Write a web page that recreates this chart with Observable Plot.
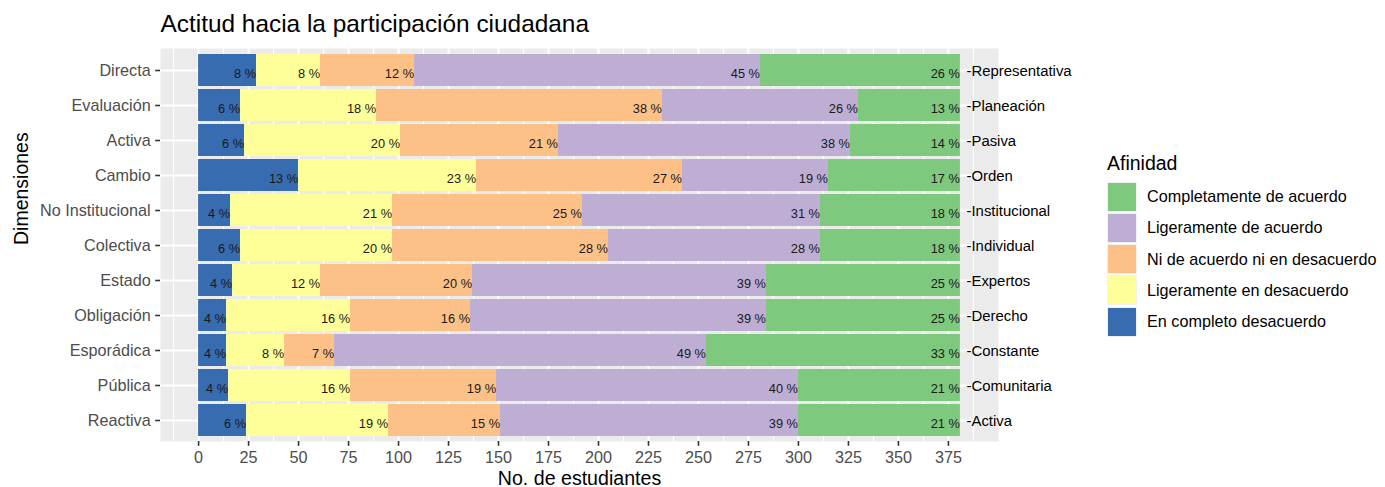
<!DOCTYPE html>
<html><head><meta charset="utf-8">
<script src="https://cdn.jsdelivr.net/npm/d3@7"></script>
<script src="https://cdn.jsdelivr.net/npm/@observablehq/plot@0.6"></script>
<style>
html,body{margin:0;padding:0;background:#fff;}
#wrap{position:relative;width:1385px;height:487px;font-family:"Liberation Sans",Arial,Helvetica,sans-serif;}
#wrap svg{position:absolute;left:0;top:0;}
.lg{position:absolute;white-space:nowrap;}
</style></head><body><div id="wrap"></div>
<script>
const categories = ["Directa","Evaluación","Activa","Cambio","No Institucional","Colectiva","Estado","Obligación","Esporádica","Pública","Reactiva"];
const opposites = ["Representativa","Planeación","Pasiva","Orden","Institucional","Individual","Expertos","Derecho","Constante","Comunitaria","Activa"];
const levels = ["En completo desacuerdo","Ligeramente en desacuerdo","Ni de acuerdo ni en desacuerdo","Ligeramente de acuerdo","Completamente de acuerdo"];
const levelColors = ["#386CB0","#FFFF99","#FDC086","#BEAED4","#7FC97F"];
// number of students per category and level
const enCompletoDesacuerdo = [29, 21, 23, 50, 16, 21, 17, 14, 14, 15, 24];
const ligeramenteEnDesacuerdo = [32, 68, 78, 89, 81, 76, 44, 62, 29, 61, 71];
const niDeAcuerdoNiEnDesacuerdo = [47, 143, 79, 103, 95, 108, 76, 60, 25, 73, 56];
const ligeramenteDeAcuerdo = [173, 98, 146, 73, 119, 106, 147, 148, 186, 151, 149];
const completamenteDeAcuerdo = [100, 51, 55, 66, 70, 70, 97, 97, 127, 81, 81];
const xTicks = [0,25,50,75,100,125,150,175,200,225,250,275,300,325,350,375];
const xMinorTicks = [-12.5,12.5,37.5,62.5,87.5,112.5,137.5,162.5,187.5,212.5,237.5,262.5,287.5,312.5,337.5,362.5,387.5];
const titleText = "Actitud hacia la participación ciudadana";
const xTitle = "No. de estudiantes";
const yTitle = "Dimensiones";
const legendTitle = "Afinidad";

const counts = [enCompletoDesacuerdo, ligeramenteEnDesacuerdo, niDeAcuerdoNiEnDesacuerdo, ligeramenteDeAcuerdo, completamenteDeAcuerdo];
const rows = [];
categories.forEach((cat, i) => {
  const tot = d3.sum(counts, s => s[i]);
  levels.forEach((lev, j) => rows.push({cat, level: lev, n: counts[j][i], pct: Math.round(100 * counts[j][i] / tot)}));
});
const maxTotal = d3.max(categories, (c, i) => d3.sum(counts, s => s[i]));
const pad = maxTotal * 0.05;

const font = '"Liberation Sans", Arial, Helvetica, sans-serif';
const chart = Plot.plot({
  width: 1385, height: 487,
  marginLeft: 160, marginRight: 387, marginTop: 48, marginBottom: 46,
  style: {fontFamily: font, background: "transparent", overflow: "visible"},
  x: {domain: [-pad, maxTotal + pad]},
  y: {domain: categories, paddingInner: 0.1, paddingOuter: 0.15, align: 0.5},
  color: {domain: levels, range: levelColors},
  marks: [
    Plot.frame({fill: "#EBEBEB", stroke: "none"}),
    Plot.ruleX(xMinorTicks, {stroke: "white", strokeWidth: 1.1}),
    Plot.gridX(xTicks, {stroke: "white", strokeOpacity: 1, strokeWidth: 2.1}),
    Plot.gridY(categories, {stroke: "white", strokeOpacity: 1, strokeWidth: 2.1}),
    Plot.barX(rows, {x: "n", y: "cat", fill: "level"}),
    Plot.text(rows, Plot.stackX2({x: "n", y: "cat", text: d => d.pct + " %", textAnchor: "end", dx: -0.5, dy: 3.5, fontSize: 12.8, fill: "#1a1a1a"})),
    Plot.text(categories, {y: d => d, text: (d, i) => "-" + opposites[i], frameAnchor: "right", dx: -32, dy: 1, textAnchor: "start", fontSize: 14.9, fill: "black"}),
    Plot.axisX({ticks: xTicks, tickSize: 4.8, tickPadding: 5, fontSize: 16.2, stroke: "#333333", strokeWidth: 1.6, fill: "#4d4d4d", label: null}),
    Plot.axisY({tickSize: 4.8, tickPadding: 5, fontSize: 16.2, stroke: "#333333", strokeWidth: 1.6, fill: "#4d4d4d", label: null}),
    Plot.text([titleText], {frameAnchor: "top-left", textAnchor: "start", lineAnchor: "bottom", dy: -16.5, fontSize: 24.4, fill: "black"}),
    Plot.text([xTitle], {frameAnchor: "bottom", lineAnchor: "bottom", dy: 43, fontSize: 19.6, fill: "black"}),
    Plot.text([yTitle], {frameAnchor: "left", lineAnchor: "middle", rotate: -90, dx: -139, fontSize: 19.5, fill: "black"})
  ]
});
const wrap = document.getElementById("wrap");
wrap.appendChild(chart);

// legend (right side)
const lt = document.createElement("div");
lt.className = "lg";
lt.textContent = legendTitle;
Object.assign(lt.style, {left: "1107px", top: "152px", fontSize: "19.5px", lineHeight: "22px", color: "black"});
wrap.appendChild(lt);
const legendOrder = levels.map((l, j) => j).reverse();
legendOrder.forEach((j, k) => {
  const top = 182.5 + k * 31.3;
  const key = document.createElement("div");
  key.className = "lg";
  Object.assign(key.style, {left: "1106.5px", top: (top - 1) + "px", width: "30px", height: "30px", background: "#F2F2F2"});
  const sw = document.createElement("div");
  Object.assign(sw.style, {position: "absolute", left: "1px", top: "1px", width: "28px", height: "28px", background: levelColors[j]});
  key.appendChild(sw);
  wrap.appendChild(key);
  const lab = document.createElement("div");
  lab.className = "lg";
  lab.textContent = levels[j];
  Object.assign(lab.style, {left: "1147px", top: (top + 14 - 9.5) + "px", fontSize: "16.2px", lineHeight: "19px", color: "black"});
  wrap.appendChild(lab);
});
</script>
</body></html>
